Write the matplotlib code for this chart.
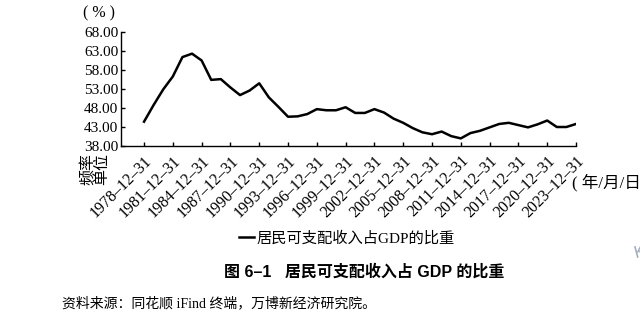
import matplotlib.pyplot as plt

# 居民可支配收入占GDP的比重（%），1978-2023 年度
years = list(range(1978, 2024))
ratio = [44.4, 48.8, 52.9, 56.3, 61.4, 62.3, 60.5, 55.4, 55.6, 53.4,
         51.4, 52.6, 54.5, 50.8, 48.3, 45.7, 45.8, 46.4, 47.7, 47.4,
         47.4, 48.2, 46.7, 46.7, 47.7, 46.8, 45.2, 44.1, 42.7, 41.6,
         41.1, 41.8, 40.6, 40.0, 41.4, 42.0, 42.9, 43.8, 44.1, 43.5,
         42.9, 43.7, 44.7, 43.0, 43.0, 43.8]

tick_years = list(range(1978, 2024, 3))
tick_labels = [f'{y}–12–31' for y in tick_years]
y_ticks = [38, 43, 48, 53, 58, 63, 68]

serif = ['Liberation Serif', 'Noto Sans CJK SC']
sans = ['Liberation Sans', 'Noto Sans CJK SC']

W, H = 640, 333
fig = plt.figure(figsize=(6.4, 3.33), dpi=100)
ax = fig.add_axes([121 / W, 1 - 146 / H, (576 - 121) / W, (146 - 32) / H])

ax.plot(years, ratio, color='black', linewidth=1.8, label='居民可支配收入占GDP的比重')

ax.set_xlim(1975.6, 2023)
ax.set_ylim(38, 68)
ax.set_yticks(y_ticks)
ax.set_yticklabels([f'{v:.2f}' for v in y_ticks], family=serif, fontsize=11)
ax.set_xticks(tick_years)
ax.set_xticklabels(tick_labels, family=serif, fontsize=11.5, rotation=45,
                   ha='right', va='top', rotation_mode='anchor')
ax.tick_params(direction='in', length=3, width=1, pad=2)
ax.tick_params(axis='x', pad=5)

for s in ['top', 'right']:
    ax.spines[s].set_visible(False)
for s in ['left', 'bottom']:
    ax.spines[s].set_linewidth(1.0)

# 单位说明
fig.text(99 / W, 1 - 13 / H, '( % )', family=serif, fontsize=11.5, ha='center', va='center')
fig.text(95 / W, 1 - 169 / H, '频率\n单位', family=serif, fontsize=11.5, rotation=90,
         ha='center', va='center', linespacing=0.9)
fig.text(572 / W, 1 - 183 / H, '( 年/月/日)', family=serif, fontsize=12, ha='left', va='center')

fig.legend(loc='center', bbox_to_anchor=(347 / W, 1 - 238 / H), frameon=False,
           handlelength=1.0, handletextpad=0.15, prop={'family': serif, 'size': 11})

fig.text(364 / W, 1 - 272 / H, '图 6–1   居民可支配收入占 GDP 的比重', family=sans,
         fontsize=11.5, fontweight='bold', ha='center', va='center')
fig.text(62 / W, 1 - 303 / H, '资料来源：同花顺 iFind 终端，万博新经济研究院。', family=serif,
         fontsize=10, ha='left', va='center')
fig.text(633 / W, 1 - 252 / H, 'K', family=sans, fontsize=12, color='#9aa8b8',
         rotation=15, ha='left', va='center')

fig.savefig('out.png', dpi=100)
